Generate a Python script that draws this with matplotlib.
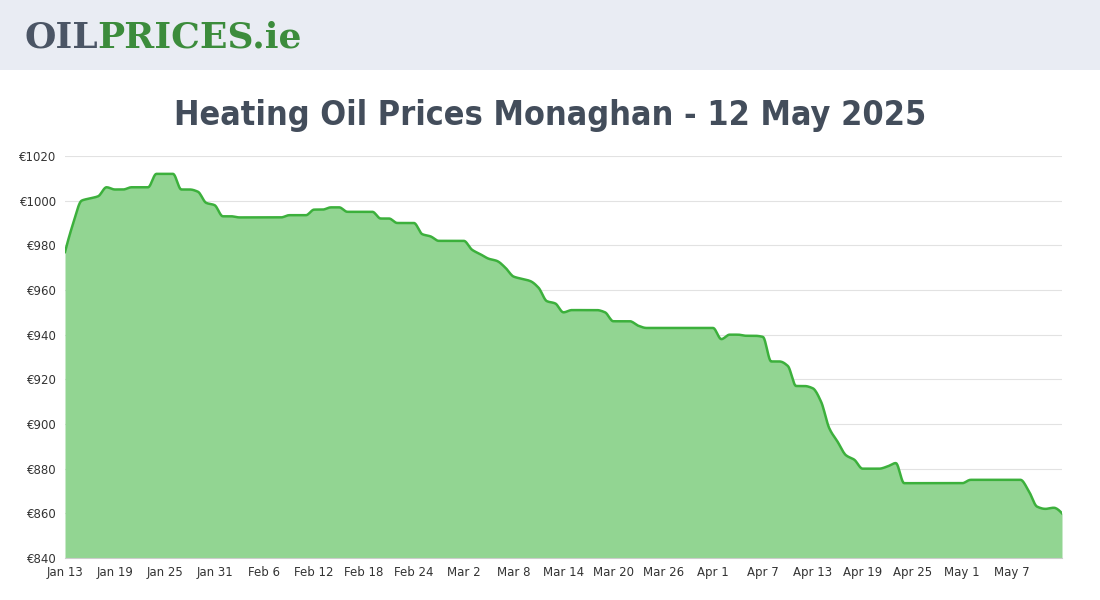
import matplotlib
matplotlib.use("Agg")
import matplotlib.pyplot as plt
import numpy as np

prices = [977, 990, 1000, 1001, 1002, 1006, 1005, 1005, 1006, 1006, 1006, 1012, 1012, 1012,
          1005, 1005, 1004, 999, 998, 993, 993, 992.5, 992.5, 992.5, 992.5, 992.5, 992.5,
          993.5, 993.5, 993.5, 996, 996, 997, 997, 995, 995, 995, 995, 992, 992, 990, 990, 990,
          985, 984, 982, 982, 982, 982, 978, 976, 974, 973, 970, 966, 965, 964, 961, 955, 954,
          950, 951, 951, 951, 951, 950, 946, 946, 946, 944, 943, 943, 943, 943, 943, 943, 943,
          943, 943, 938, 940, 940, 939.5, 939.5, 939, 928, 928, 926, 917, 917, 916, 910, 898,
          892, 886, 884, 880, 880, 880, 881, 882.5, 873.5, 873.5, 873.5, 873.5, 873.5, 873.5,
          873.5, 873.5, 875, 875, 875, 875, 875, 875, 875, 870, 863, 862, 862.5, 860]
tick_labels = ["Jan 13", "Jan 19", "Jan 25", "Jan 31", "Feb 6", "Feb 12", "Feb 18", "Feb 24",
               "Mar 2", "Mar 8", "Mar 14", "Mar 20", "Mar 26", "Apr 1", "Apr 7", "Apr 13",
               "Apr 19", "Apr 25", "May 1", "May 7"]
y_ticks = list(range(840, 1021, 20))

x = np.arange(len(prices))
xs = np.linspace(0, len(prices) - 1, 1200)
try:
    from scipy.interpolate import PchipInterpolator
    ys = PchipInterpolator(x, prices)(xs)
except Exception:
    ys = np.interp(xs, x, prices)

fig = plt.figure(figsize=(11, 6), dpi=100)
fig.patch.set_facecolor("white")
hdr = fig.add_axes([0, 1 - 70/600, 1, 70/600])
hdr.set_facecolor("#e9ecf3"); hdr.set_xticks([]); hdr.set_yticks([])
for s in hdr.spines.values(): s.set_visible(False)
fig.text(24/1100, 1 - 38/600, "OIL", color="#4b5565", fontsize=26, fontweight="heavy",
         family="DejaVu Serif", va="center")
fig.text(97/1100, 1 - 38/600, "PRICES.ie", color="#3c8c3c", fontsize=26, fontweight="heavy",
         family="DejaVu Serif", va="center")
fig.text(0.5, 1 - 115/600, "Heating Oil Prices Monaghan - 12 May 2025", ha="center", va="center",
         fontsize=24.5, color="#434d5b", family="DejaVu Sans", fontstretch="condensed",
         fontweight="bold")

ax = fig.add_axes([65/1100, 42/600, (1062-65)/1100, (558-156)/600])
ax.fill_between(xs, ys, 840, color="#92d592", lw=0)
ax.plot(xs, ys, color="#3cb03c", lw=1.8)
ax.set_xlim(0, len(prices) - 1)
ax.set_ylim(840, 1020)
ax.set_yticks(y_ticks)
ax.set_yticklabels([f"€{v}" for v in y_ticks], fontsize=8.5, color="#333")
ax.set_xticks(np.arange(0, 6 * len(tick_labels), 6))
ax.set_xticklabels(tick_labels, fontsize=8.5, color="#333")
ax.grid(axis="y", color="#e2e2e2", lw=0.8)
ax.set_axisbelow(True)
ax.tick_params(length=0, pad=6)
for s in ["top", "right", "left"]:
    ax.spines[s].set_visible(False)
ax.spines["bottom"].set_color("#cccccc")
fig.savefig("out.png", dpi=100)
